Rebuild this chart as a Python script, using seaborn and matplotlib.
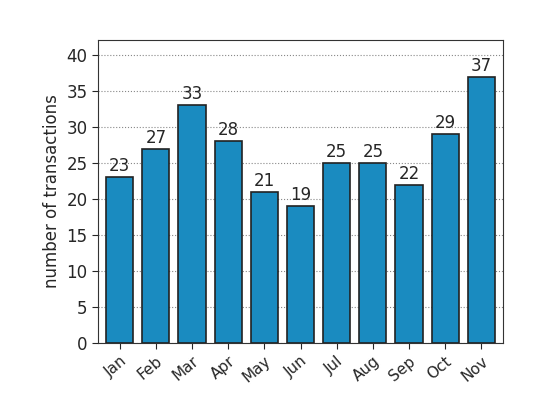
import matplotlib
matplotlib.use("Agg")
import matplotlib.pyplot as plt
import seaborn as sns
import pandas as pd

months = ["Jan","Feb","Mar","Apr","May","Jun","Jul","Aug","Sep","Oct","Nov"]
values = [23,27,33,28,21,19,25,25,22,29,37]

sns.set_style("white")
plt.rcParams['font.family'] = ['DejaVu Sans']
fig = plt.figure(figsize=(5.58,4.08), dpi=100)
ax = fig.add_axes([98/558, 1-343/408, 405/558, 303/408])
df = pd.DataFrame({"m": months, "v": values})
sns.barplot(data=df, x="m", y="v", color="#1a8bc0", saturation=1, width=0.75,
            edgecolor="#222222", linewidth=1.2, ax=ax, zorder=3)
ax.set_ylim(0, 42.1)
ax.set_xlim(-0.6, 10.6)
ax.set_yticks(range(0, 41, 5))
ax.yaxis.grid(True, linestyle=":", color="#888888", linewidth=0.8, zorder=0)
ax.set_axisbelow(True)
for i, v in enumerate(values):
    ax.text(i, v + 0.3, str(v), ha="center", va="bottom", fontsize=12)
ax.set_xlabel("")
ax.set_ylabel("number of transactions", fontsize=12)
ax.tick_params(axis="y", labelsize=12, left=True, length=4)
ax.tick_params(axis="x", labelsize=11, bottom=True, length=4)
plt.setp(ax.get_xticklabels(), rotation=40, ha="right", rotation_mode="anchor")
for s in ax.spines.values():
    s.set_color("#333333")
fig.savefig("out.png", dpi=100)
